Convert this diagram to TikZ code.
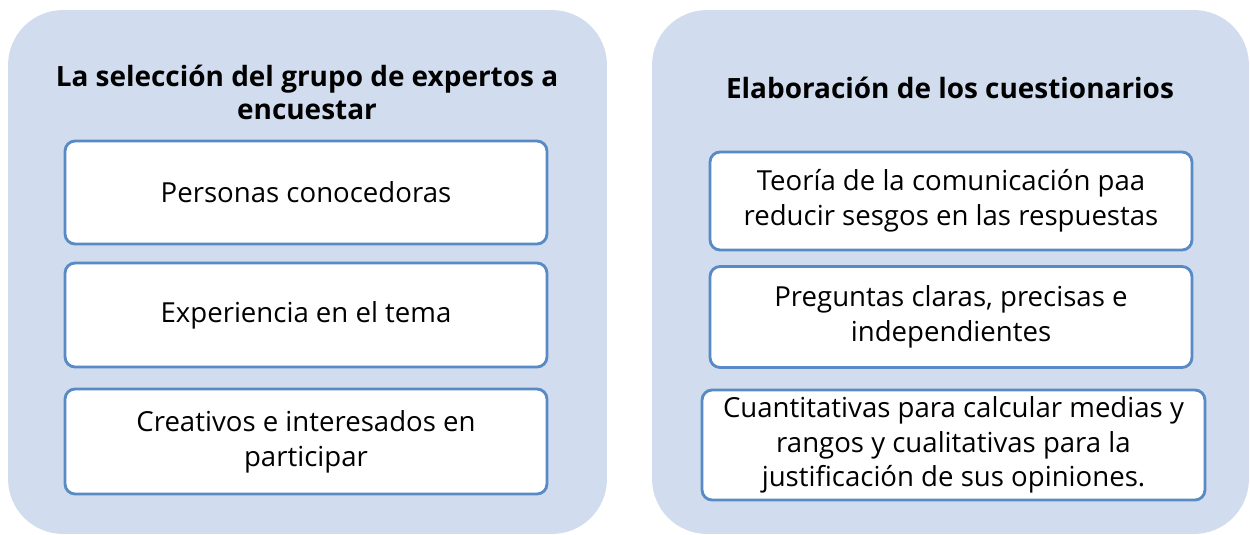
\documentclass[tikz,border=0pt]{standalone}
\usepackage{fontspec}
\setmainfont{Open Sans}
\definecolor{fondo}{RGB}{209,221,238}
\definecolor{borde}{RGB}{88,138,197}
\begin{document}
\begin{tikzpicture}[x=0.02cm,y=-0.02cm]
		% Estilos
		\tikzstyle{panel}=[fill=fondo,rounded corners=1.1cm,inner sep=0pt]
		\tikzstyle{casilla}=[draw=borde,fill=white,line width=1.6pt,rounded corners=0.2cm,align=center,inner sep=2pt,font=\fontsize{15.7}{19.8}\selectfont]
		\tikzstyle{titulo}=[align=center,font=\fontsize{15.9}{18.8}\selectfont\bfseries]
		% Columnas
		\def\ColumnaA{306}
		\def\ColumnaB{951}
		\useasboundingbox (0,0) rectangle (1250,534);
		% Paneles
		\node[panel,minimum width=11.98cm,minimum height=10.48cm] (panelA) at (307.5,272) {};
		\node[panel,minimum width=11.94cm,minimum height=10.48cm] (panelB) at (950.5,272) {};
		\node[titulo] (tituloA) at (307,92) {La selección del grupo de expertos a\\encuestar};
		\node[titulo] (tituloB) at (950,88) {Elaboración de los cuestionarios};
		% Casillas
		\node[casilla,minimum width=9.64cm,minimum height=2.06cm] (A1) at (\ColumnaA,192.5) {Personas conocedoras};
		\node[casilla,minimum width=9.64cm,minimum height=2.08cm] (A2) at (\ColumnaA,315) {Experiencia en el tema};
		\node[casilla,minimum width=9.64cm,minimum height=2.1cm] (A3) at (\ColumnaA,441.5) {Creativos e interesados en\\participar};
		%
		\node[casilla,minimum width=9.64cm,minimum height=1.96cm] (B1) at (\ColumnaB,201) {Teoría de la comunicación paa\\reducir sesgos en las respuestas};
		\node[casilla,minimum width=9.64cm,minimum height=2.02cm] (B2) at (\ColumnaB,317) {Preguntas claras, precisas e\\independientes};
		\node[casilla,minimum width=10.06cm,minimum height=2.2cm] (B3) at (953.5,445) {Cuantitativas para calcular medias y\\rangos y cualitativas para la\\justificación de sus opiniones.};
\end{tikzpicture}
\end{document}
